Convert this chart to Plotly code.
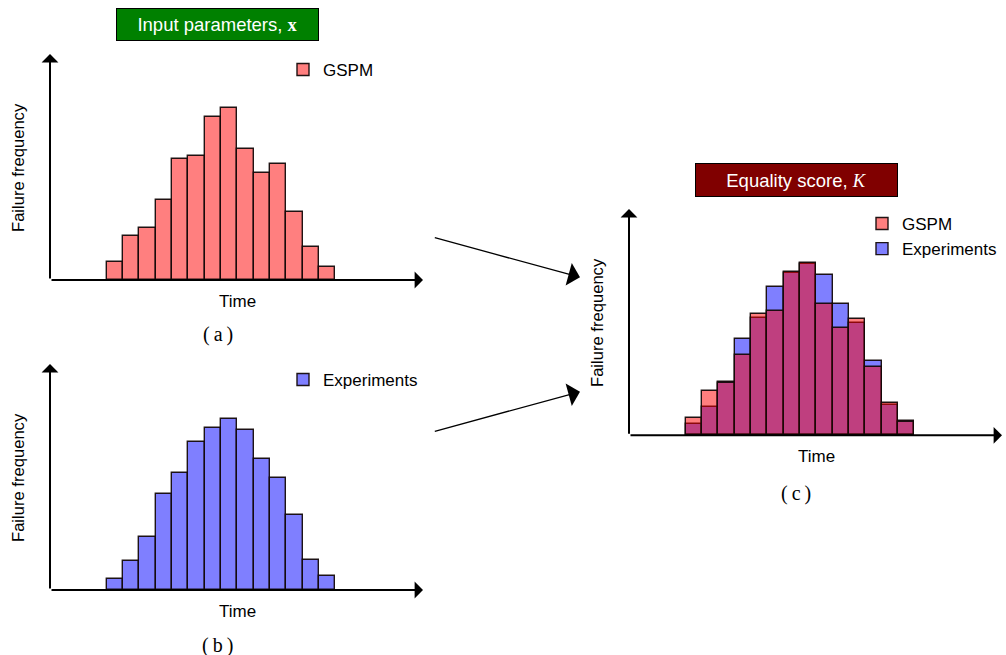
import plotly.graph_objects as go

# ---- data (failure-time histogram bins, arbitrary frequency units) ----
bins = list(range(14))
gspm = [17.7, 44.0, 52.5, 79.7, 121.0, 124.5, 163.3, 172.0, 131.5, 106.7, 116.3, 68.3, 32.7, 13.5]
experiments = [11.3, 28.7, 52.8, 96.3, 116.8, 148.0, 162.3, 171.0, 159.7, 130.7, 111.7, 74.7, 30.5, 14.2]

W, H = 1006, 655
def fx(p): return p / W
def fy(p): return 1 - p / H

RED = "rgba(255,0,0,0.5)"
BLUE = "rgba(0,0,255,0.5)"
EDGE = "rgba(20,10,10,0.95)"
SANS = "Liberation Sans, Arial, sans-serif"
SERIF = "Liberation Serif, DejaVu Serif, serif"

fig = go.Figure()
line = dict(color=EDGE, width=1.4)

fig.add_trace(go.Bar(x=bins, y=gspm, name="GSPM", marker=dict(color=RED, line=line),
                     xaxis="x", yaxis="y", legend="legend", showlegend=True))
fig.add_trace(go.Bar(x=bins, y=experiments, name="Experiments", marker=dict(color=BLUE, line=line),
                     xaxis="x2", yaxis="y2", legend="legend2", showlegend=True))
fig.add_trace(go.Bar(x=bins, y=experiments, name="Experiments", marker=dict(color=BLUE, line=line),
                     xaxis="x3", yaxis="y3", legend="legend3", legendrank=2, showlegend=True))
fig.add_trace(go.Bar(x=bins, y=gspm, name="GSPM", marker=dict(color=RED, line=line),
                     xaxis="x3", yaxis="y3", legend="legend3", legendrank=1, showlegend=True))

xr = [-3.98, 18.86]
yr = [0, 226]
ax_common = dict(showgrid=False, zeroline=False, showticklabels=False, ticks="", showline=False, fixedrange=True)

doms = {
    "a": ([fx(50), fx(423)], [fy(280), fy(54)]),
    "b": ([fx(50), fx(423)], [fy(590), fy(364)]),
    "c": ([fx(629), fx(1002)], [fy(435.3), fy(209)]),
}

LF = 17
fig.update_layout(
    width=W, height=H,
    margin=dict(l=0, r=0, t=0, b=0),
    paper_bgcolor="white", plot_bgcolor="rgba(0,0,0,0)",
    barmode="overlay", bargap=0, showlegend=True,
    font=dict(family=SANS, size=16, color="black"),
    xaxis=dict(domain=doms["a"][0], range=xr, anchor="y", **ax_common),
    yaxis=dict(domain=doms["a"][1], range=yr, anchor="x", **ax_common),
    xaxis2=dict(domain=doms["b"][0], range=xr, anchor="y2", **ax_common),
    yaxis2=dict(domain=doms["b"][1], range=yr, anchor="x2", **ax_common),
    xaxis3=dict(domain=doms["c"][0], range=xr, anchor="y3", **ax_common),
    yaxis3=dict(domain=doms["c"][1], range=yr, anchor="x3", **ax_common),
    legend=dict(x=fx(283), y=fy(52), xanchor="left", yanchor="top", bgcolor="rgba(0,0,0,0)",
                font=dict(size=LF, family=SANS), visible=True),
    legend2=dict(x=fx(283), y=fy(362), xanchor="left", yanchor="top", bgcolor="rgba(0,0,0,0)",
                 font=dict(size=LF, family=SANS), visible=True),
    legend3=dict(x=fx(862), y=fy(206), xanchor="left", yanchor="top", bgcolor="rgba(0,0,0,0)",
                 font=dict(size=LF, family=SANS), traceorder="normal", visible=True),
)

ann = []
# axis arrows (drawn in each subplot's domain coordinates)
for xs, ys in [("x", "y"), ("x2", "y2"), ("x3", "y3")]:
    xd, yd = f"{xs} domain", f"{ys} domain"
    ann.append(dict(x=0, y=1, xref=xd, yref=yd, ax=0, ay=0, axref=xd, ayref=yd, text="",
                    showarrow=True, arrowhead=1, arrowsize=1.4, arrowwidth=2, arrowcolor="black", standoff=0))
    ann.append(dict(x=1, y=0, xref=xd, yref=yd, ax=0, ay=0, axref=xd, ayref=yd, text="",
                    showarrow=True, arrowhead=1, arrowsize=1.4, arrowwidth=2, arrowcolor="black", standoff=0))

def label(text, px, py, size=16, family=SANS, angle=0):
    return dict(x=fx(px), y=fy(py), xref="paper", yref="paper", text=text, showarrow=False,
                xanchor="center", yanchor="middle", textangle=angle, font=dict(size=size, family=family))

# axis titles
for (tx, ty), (lx, ly) in [((237.7, 301.5), (18, 168)), ((237.7, 611.5), (18, 478)), ((816, 456), (597, 323))]:
    ann.append(label("Time", tx, ty, 17))
    ann.append(label("Failure frequency", lx, ly, 16.6, angle=-90))

# panel captions
for txt, px, py in [("(\u2009a\u2009)", 217.5, 334), ("(\u2009b\u2009)", 217.5, 645), ("(\u2009c\u2009)", 796, 493)]:
    ann.append(label(txt, px, py, 20, SERIF))

# title boxes
ann.append(dict(x=fx(217.3), y=fy(25), xref="paper", yref="paper", xanchor="center", yanchor="middle",
                text='Input parameters, <span style="font-family:Liberation Serif"><b>x</b></span>',
                showarrow=False, bgcolor="#008000", bordercolor="black", borderwidth=1, borderpad=0,
                width=201, height=31, font=dict(size=18.5, family=SANS, color="white")))
ann.append(dict(x=fx(796), y=fy(180), xref="paper", yref="paper", xanchor="center", yanchor="middle",
                text='Equality score, <span style="font-family:Liberation Serif"><i>K</i></span>',
                showarrow=False, bgcolor="#800000", bordercolor="black", borderwidth=1, borderpad=0,
                width=201, height=32, font=dict(size=18.5, family=SANS, color="white")))

# connecting arrows
ann.append(dict(x=fx(580), y=fy(277.3), xref="paper", yref="paper", ax=-146.7, ay=-40,
                axref="pixel", ayref="pixel", text="", showarrow=True, arrowhead=1, arrowsize=3,
                arrowwidth=1.3, arrowcolor="black", standoff=0))
ann.append(dict(x=fx(580), y=fy(391.7), xref="paper", yref="paper", ax=-146.7, ay=40,
                axref="pixel", ayref="pixel", text="", showarrow=True, arrowhead=1, arrowsize=3,
                arrowwidth=1.3, arrowcolor="black", standoff=0))

fig.update_layout(annotations=ann)
fig.write_html("out.html", config={"displayModeBar": False},
               post_script="document.body.style.margin='0';document.body.style.overflow='hidden';")
